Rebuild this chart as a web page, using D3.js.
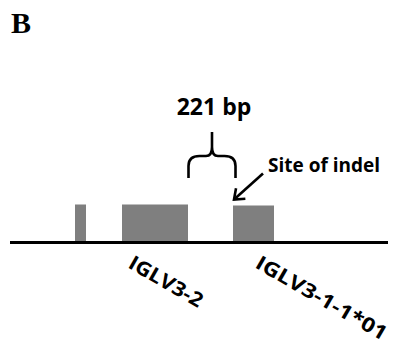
<!DOCTYPE html>
<html>
<head>
<meta charset="utf-8">
<script src="https://d3js.org/d3.v7.min.js"></script>
<style>
  body { margin: 0; background: #fff; }
  text { font-family: "Open Sans", "DejaVu Sans", sans-serif; font-weight: bold; fill: #000; }
</style>
</head>
<body>
<svg width="410" height="348"></svg>
<script>
// exon layout along the locus (arbitrary position units), and heights
var exonStart = [65, 112, 223];
var exonEnd = [76, 178, 264];
var exonHeight = [38, 38, 37];
var geneLabels = ["IGLV3-2", "IGLV3-1-1*01"];
var genePos = [117, 244];
var gapLabel = "221 bp";
var siteLabel = "Site of indel";
var locusLength = 378;

var svg = d3.select("svg");

// position scale along the chromosome line
var x = d3.scaleLinear().domain([0, locusLength]).range([10, 388]);
// height above baseline
var y = d3.scaleLinear().domain([0, 100]).range([242.5, 142.5]);

// panel letter
svg.append("text")
    .attr("x", 11).attr("y", 33)
    .style("font-family", "'Liberation Serif', 'DejaVu Serif', serif")
    .style("font-size", "30px")
    .text("B");

// exons
svg.selectAll("rect.exon")
    .data(exonStart)
    .enter().append("rect")
    .attr("class", "exon")
    .attr("x", function(d) { return x(d); })
    .attr("y", function(d, i) { return y(exonHeight[i]); })
    .attr("width", function(d, i) { return x(exonEnd[i]) - x(d); })
    .attr("height", function(d, i) { return y(0) - y(exonHeight[i]); })
    .attr("fill", "#7f7f7f");

// chromosome line
svg.append("line")
    .attr("x1", x(0)).attr("x2", x(locusLength))
    .attr("y1", y(0)).attr("y2", y(0))
    .attr("stroke", "#000")
    .attr("stroke-width", 3);

// brace over the gap between the two genes
var bL = x(exonEnd[1]) + 0.5, bR = x(exonStart[2]) + 2.5;
var bM = (bL + bR) / 2;
var bBot = 178, bMid = 156, bTop = 132;
var brace = d3.path();
brace.moveTo(bL, bBot);
brace.lineTo(bL, bMid + 10);
brace.quadraticCurveTo(bL, bMid, bL + 11, bMid);
brace.lineTo(bM - 6, bMid);
brace.quadraticCurveTo(bM, bMid, bM, bMid - 9);
brace.lineTo(bM, bTop);
brace.moveTo(bM, bMid - 9);
brace.quadraticCurveTo(bM, bMid, bM + 6, bMid);
brace.lineTo(bR - 11, bMid);
brace.quadraticCurveTo(bR, bMid, bR, bMid + 10);
brace.lineTo(bR, bBot);
svg.append("path")
    .attr("d", brace.toString())
    .attr("fill", "none")
    .attr("stroke", "#000")
    .attr("stroke-width", 2.6);

svg.append("text")
    .attr("x", 214).attr("y", 114.5)
    .attr("text-anchor", "middle")
    .style("font-size", "23px")
    .text(gapLabel);

// arrow to site of indel
svg.append("defs").append("marker")
    .attr("id", "head")
    .attr("viewBox", "-10 -10 20 20")
    .attr("refX", 0).attr("refY", 0)
    .attr("markerWidth", 20).attr("markerHeight", 20)
    .attr("markerUnits", "userSpaceOnUse")
    .attr("orient", "auto")
    .append("path")
    .attr("d", "M-9,-7 L0,0 L-9,7")
    .attr("fill", "none")
    .attr("stroke", "#000")
    .attr("stroke-width", 2.6);

svg.append("line")
    .attr("x1", 263).attr("y1", 173.5)
    .attr("x2", x(exonStart[2]) + 1).attr("y2", 199.5)
    .attr("stroke", "#000")
    .attr("stroke-width", 2.6)
    .attr("marker-end", "url(#head)");

svg.append("text")
    .attr("x", 268).attr("y", 172)
    .style("font-size", "19px")
    .text(siteLabel);

// rotated gene names, stretched to the span they take in the figure
var labelSpan = [82, 148];
svg.selectAll("text.gene")
    .data(geneLabels)
    .enter().append("text")
    .attr("class", "gene")
    .attr("transform", function(d, i) {
        return "translate(" + x(genePos[i]) + ",267) rotate(30)";
    })
    .attr("textLength", function(d, i) { return labelSpan[i]; })
    .attr("lengthAdjust", "spacingAndGlyphs")
    .style("font-size", "20px")
    .text(function(d) { return d; });
</script>
</body>
</html>
